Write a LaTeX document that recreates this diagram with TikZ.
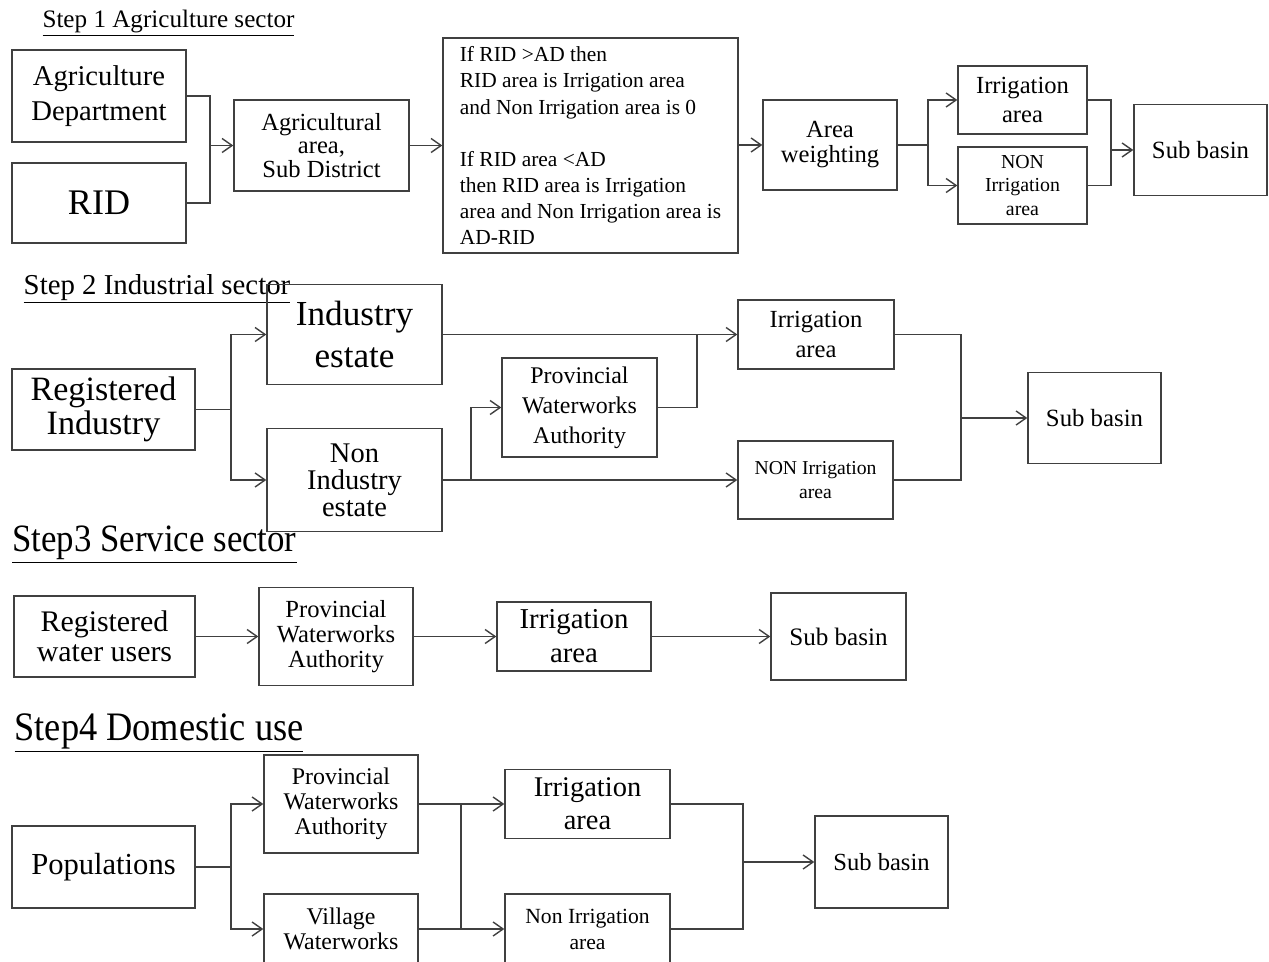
\documentclass[tikz,border=0pt]{standalone}
\usepackage{fontspec}
\setmainfont{Liberation Serif}
\usepackage{tikz}
\usetikzlibrary{arrows.meta,positioning,calc}

\begin{document}
\begin{tikzpicture}[
  box/.style={draw=black!75, line width=0.8pt, align=center, inner sep=0pt},
  steptitle/.style={inner sep=0pt, anchor=center},
  flow/.style={-{Straight Barb[length=2mm,width=2.8mm]}, line width=0.8pt, draw=black!75},
  link/.style={line width=0.8pt, draw=black!75}
]
\useasboundingbox (0,0) rectangle (25.38,19.22);
\clip (0,0) rectangle (25.38,19.22);

% Step 1
\node[steptitle, font=\fontsize{14.3}{16}\selectfont] (t1) at (3.37,18.76) {\underline{Step 1 Agriculture sector}};
\node[box, minimum width=3.48cm, minimum height=1.84cm, font=\fontsize{16.3}{20}\selectfont] (agdept) at (1.98,17.30) {Agriculture\\Department};
\node[box, minimum width=3.48cm, minimum height=1.60cm, font=\fontsize{20.5}{24}\selectfont] (rid) at (1.98,15.16) {RID};
\node[box, minimum width=3.50cm, minimum height=1.82cm, font=\fontsize{14}{13.6}\selectfont] (agarea) at (6.43,16.31) {Agricultural\\area,\\Sub District};
\node[box, minimum width=5.90cm, minimum height=4.30cm, align=left, font=\fontsize{12.2}{14.8}\selectfont] (rule) at (11.81,16.31)
  {If RID >AD then\\RID area is Irrigation area\\and Non Irrigation area is 0\\[14.8pt]If RID area <AD\\then RID area is Irrigation\\area and Non Irrigation area is\\AD-RID};
\node[box, minimum width=2.68cm, minimum height=1.80cm, font=\fontsize{14}{14.2}\selectfont] (aw) at (16.60,16.32) {Area\\weighting};
\node[box, minimum width=2.58cm, minimum height=1.36cm, font=\fontsize{14}{17}\selectfont] (irr1) at (20.45,17.22) {Irrigation\\area};
\node[box, minimum width=2.58cm, minimum height=1.54cm, font=\fontsize{11.3}{13.6}\selectfont] (nonirr1) at (20.45,15.51) {NON\\Irrigation\\area};
\node[box, minimum width=2.66cm, minimum height=1.82cm, font=\fontsize{14.1}{16}\selectfont] (sb1) at (24.01,16.22) {Sub basin};

\coordinate (j1) at (4.20,16.31);
\coordinate (j2) at (18.56,16.32);
\coordinate (j3) at (22.22,16.22);
\draw[link] (agdept.east) -| (j1);
\draw[link] (rid.east) -| (j1);
\draw[flow] (j1) -- (agarea.west);
\draw[flow] (agarea.east) -- (rule.west);
\draw[flow] (rule.east |- aw.west) -- (aw.west);
\draw[link] (aw.east) -- (j2);
\draw[flow] (j2) |- (irr1.west);
\draw[flow] (j2) |- (nonirr1.west);
\draw[link] (irr1.east) -| (j3);
\draw[link] (nonirr1.east) -| (j3);
\draw[flow] (j3) -- (sb1.west);

% Step 2
\node[steptitle, font=\fontsize{16.4}{18}\selectfont] (t2) at (3.14,13.44) {\underline{Step 2 Industrial sector}};
\node[box, minimum width=3.50cm, minimum height=2.00cm, font=\fontsize{20}{23.8}\selectfont] (indest) at (7.09,12.53) {Industry\\estate};
\node[box, minimum width=3.66cm, minimum height=1.62cm, font=\fontsize{19.4}{19.3}\selectfont] (regind) at (2.07,11.03) {Registered\\Industry};
\node[box, minimum width=3.50cm, minimum height=2.06cm, font=\fontsize{16.2}{15.3}\selectfont] (nonind) at (7.09,9.62) {Non\\Industry\\estate};
\node[box, minimum width=3.10cm, minimum height=1.98cm, font=\fontsize{13.6}{17}\selectfont] (pwa2) at (11.59,11.07) {Provincial\\Waterworks\\Authority};
\node[box, minimum width=3.12cm, minimum height=1.38cm, font=\fontsize{14}{17.6}\selectfont] (irr2) at (16.32,12.53) {Irrigation\\area};
\node[box, minimum width=3.10cm, minimum height=1.56cm, font=\fontsize{11.2}{13.6}\selectfont] (nonirr2) at (16.31,9.62) {NON Irrigation\\area};
\node[box, minimum width=2.66cm, minimum height=1.82cm, font=\fontsize{14.1}{16}\selectfont] (sb2) at (21.89,10.86) {Sub basin};

\coordinate (j4) at (4.62,11.03);
\coordinate (j5) at (9.42,9.62);
\coordinate (j6) at (13.94,12.53);
\coordinate (j7) at (19.22,10.86);
\draw[link] (regind.east) -- (j4);
\draw[flow] (j4) |- (indest.west);
\draw[flow] (j4) |- (nonind.west);
\draw[flow] (indest.east) -- (irr2.west);
\draw[flow] (nonind.east) -- (nonirr2.west);
\draw[flow] (j5) |- (pwa2.west);
\draw[link] (pwa2.east) -| (j6);
\draw[link] (irr2.east) -| (j7);
\draw[link] (nonirr2.east) -| (j7);
\draw[flow] (j7) -- (sb2.west);

% Step 3
\node[steptitle, font=\fontsize{22}{24}\selectfont] (t3) at (3.09,8.32) {\underline{\scalebox{0.9}[1]{Step3 Service sector}}};
\node[box, minimum width=3.62cm, minimum height=1.62cm, font=\fontsize{17}{17}\selectfont] (regwu) at (2.09,6.49) {Registered\\water users};
\node[box, minimum width=3.08cm, minimum height=1.96cm, font=\fontsize{14}{14.2}\selectfont] (pwa3) at (6.72,6.49) {Provincial\\Waterworks\\Authority};
\node[box, minimum width=3.08cm, minimum height=1.38cm, font=\fontsize{16.4}{19.3}\selectfont] (irr3) at (11.48,6.49) {Irrigation\\area};
\node[box, minimum width=2.70cm, minimum height=1.74cm, font=\fontsize{14.3}{16}\selectfont] (sb3) at (16.77,6.49) {Sub basin};

\draw[flow] (regwu.east) -- (pwa3.west);
\draw[flow] (pwa3.east) -- (irr3.west);
\draw[flow] (irr3.east) -- (sb3.west);

% Step 4
\node[steptitle, font=\fontsize{23}{25}\selectfont] (t4) at (3.18,4.56) {\underline{\scalebox{0.9}[1]{Step4 Domestic use}}};
\node[box, minimum width=3.08cm, minimum height=1.96cm, font=\fontsize{13.6}{14.2}\selectfont] (pwa4) at (6.82,3.14) {Provincial\\Waterworks\\Authority};
\node[box, minimum width=3.66cm, minimum height=1.64cm, font=\fontsize{17.4}{19}\selectfont] (pop) at (2.07,1.88) {Populations};
\node[box, minimum width=3.08cm, minimum height=1.40cm, font=\fontsize{13.6}{14.2}\selectfont] (vw) at (6.82,0.64) {Village\\Waterworks};
\node[box, minimum width=3.30cm, minimum height=1.38cm, font=\fontsize{16.2}{18.7}\selectfont] (irr4) at (11.75,3.14) {Irrigation\\area};
\node[box, minimum width=3.30cm, minimum height=1.40cm, font=\fontsize{12.3}{14.8}\selectfont] (nonirr4) at (11.75,0.64) {Non Irrigation\\area};
\node[box, minimum width=2.66cm, minimum height=1.84cm, font=\fontsize{14}{16}\selectfont] (sb4) at (17.63,1.98) {Sub basin};

\coordinate (j8) at (4.62,1.88);
\coordinate (j9) at (9.22,3.14);
\coordinate (j10) at (9.22,0.64);
\coordinate (j11) at (14.86,1.98);
\draw[link] (pop.east) -- (j8);
\draw[flow] (j8) |- (pwa4.west);
\draw[flow] (j8) |- (vw.west);
\draw[flow] (pwa4.east) -- (irr4.west);
\draw[flow] (vw.east) -- (nonirr4.west);
\draw[link] (j9) -- (j10);
\draw[link] (irr4.east) -| (j11);
\draw[link] (nonirr4.east) -| (j11);
\draw[flow] (j11) -- (sb4.west);
\end{tikzpicture}
\end{document}
